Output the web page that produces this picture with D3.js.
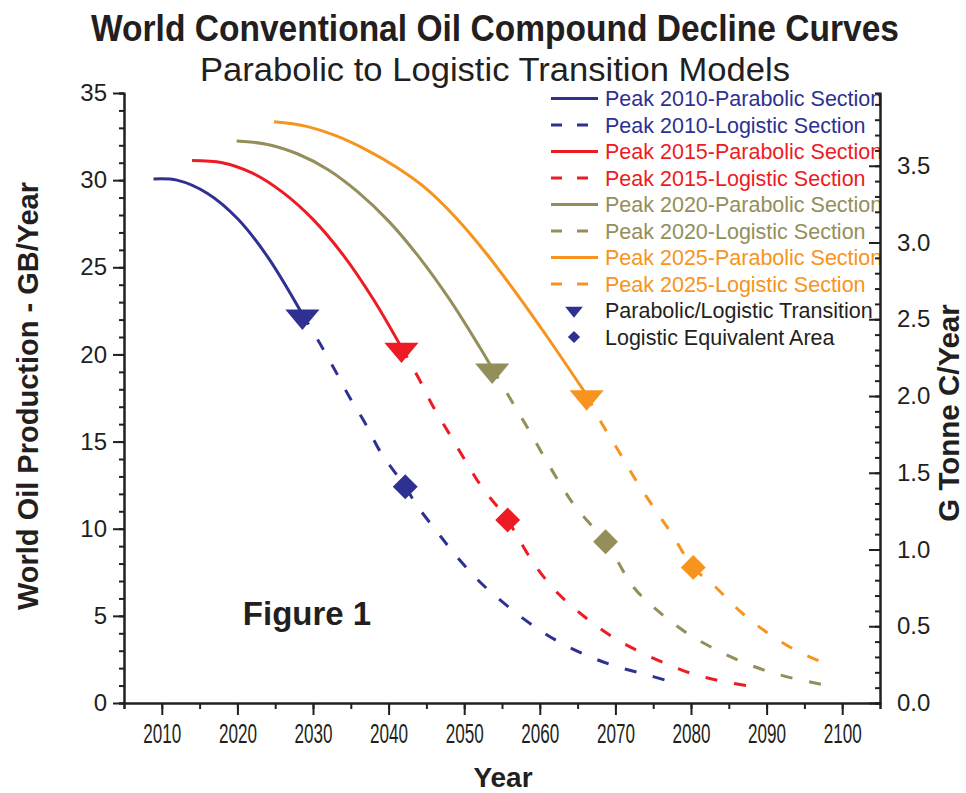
<html>
  <script src="https://d3js.org/d3.v7.min.js"></script>
  <style>
    body,
    html {
      margin: 0;
      padding: 0;
      background: white;
    }
    text {
      font-family: "Liberation Sans", Arial, sans-serif;
      fill: #231f20;
    }
  </style>
  <body>
    <svg id="chart" width="966" height="793"></svg>
    <script>
      // values: [year, GB/year]
      const parabolic2010 = [[2008.9, 30.07], [2012, 30.0], [2016, 29.25], [2020, 27.8], [2024, 25.6], [2028.6, 22.3]];
      const logistic2010 = [[2028.6, 22.3], [2030.9, 20.64], [2032.9, 19.1], [2034.8, 17.57], [2036.9, 16.05], [2038.9, 14.42], [2042.2, 12.41], [2043.7, 11.36], [2046.4, 9.83], [2049.2, 8.3], [2052.5, 6.77], [2056.1, 5.43], [2059.6, 4.29], [2063.1, 3.37], [2066.6, 2.66], [2070.2, 2.08], [2073.9, 1.65], [2077.4, 1.22], [2078.2, 1.15]];
      const parabolic2015 = [[2014, 31.13], [2018, 31.0], [2022, 30.4], [2026, 29.3], [2030, 27.75], [2034, 25.7], [2038, 23.15], [2041.7, 20.4]];
      const logistic2015 = [[2041.7, 20.4], [2044.1, 18.53], [2045.9, 17.0], [2048.0, 15.47], [2050.1, 13.94], [2052.3, 12.41], [2055.75, 10.5], [2057.3, 9.35], [2059.5, 7.82], [2062.5, 6.25], [2066.0, 4.92], [2069.6, 3.8], [2073.2, 2.94], [2076.8, 2.24], [2080.3, 1.66], [2083.8, 1.28], [2087.4, 0.99], [2088.2, 0.93]];
      const parabolic2020 = [[2019.9, 32.25], [2024, 32.05], [2028, 31.5], [2032, 30.6], [2036, 29.3], [2040, 27.65], [2044, 25.6], [2048, 23.2], [2052, 20.45], [2053.7, 19.2]];
      const logistic2020 = [[2053.7, 19.2], [2056.2, 17.38], [2058.3, 15.85], [2060.3, 14.33], [2062.4, 12.79], [2064.7, 11.26], [2068.7, 9.25], [2070.2, 8.2], [2072.4, 6.64], [2075.9, 5.18], [2079.4, 4.03], [2082.95, 3.14], [2086.5, 2.41], [2090.0, 1.84], [2093.5, 1.42], [2098.1, 1.0]];
      const parabolic2025 = [[2024.85, 33.35], [2029, 33.1], [2033, 32.55], [2037, 31.75], [2041, 30.75], [2045, 29.5], [2049, 27.8], [2053, 25.75], [2057, 23.45], [2061, 21.0], [2066.2, 17.67]];
      const logistic2025 = [[2066.2, 17.67], [2068.4, 15.89], [2070.6, 14.33], [2072.7, 12.79], [2075.0, 11.26], [2077.4, 9.74], [2080.3, 7.78], [2083.2, 6.67], [2086.7, 5.18], [2090.2, 4.0], [2093.8, 3.04], [2098.1, 2.2]];

      const transitionPoints = [[2028.6, 22.3], [2041.7, 20.4], [2053.7, 19.2], [2066.2, 17.67]];
      const equivalentPoints = [[2042.2, 12.41], [2055.75, 10.5], [2068.7, 9.25], [2080.3, 7.78]];

      const peakNames = ["Peak 2010", "Peak 2015", "Peak 2020", "Peak 2025"];
      const peakColors = ["#2e3192", "#ed1c24", "#948e5a", "#f7941d"];

      const yearTicks = [2010, 2020, 2030, 2040, 2050, 2060, 2070, 2080, 2090, 2100];
      const gbTicks = [0, 5, 10, 15, 20, 25, 30, 35];
      const carbonTicks = [0, 0.5, 1.0, 1.5, 2.0, 2.5, 3.0, 3.5];
      const carbonMax = 3.974; // right axis value at 35 GB/year

      const parabolic = [parabolic2010, parabolic2015, parabolic2020, parabolic2025];
      const logistic = [logistic2010, logistic2015, logistic2020, logistic2025];

      const svg = d3.select("#chart");
      const plotLeft = 124, plotRight = 880, plotTop = 93, plotBottom = 703;
      const ink = "#231f20";

      const x = d3.scaleLinear().domain([2005, 2105]).range([plotLeft, plotRight]);
      const y = d3.scaleLinear().domain([0, 35]).range([plotBottom, plotTop]);
      const y2 = d3.scaleLinear().domain([0, carbonMax]).range([plotBottom, plotTop]);

      // titles
      svg.append("text")
        .attr("x", 495).attr("y", 41)
        .attr("text-anchor", "middle")
        .attr("font-size", 36).attr("font-weight", "bold")
        .attr("textLength", 808).attr("lengthAdjust", "spacingAndGlyphs")
        .text("World Conventional Oil Compound Decline Curves");
      svg.append("text")
        .attr("x", 495).attr("y", 81)
        .attr("text-anchor", "middle")
        .attr("font-size", 34)
        .attr("textLength", 590).attr("lengthAdjust", "spacingAndGlyphs")
        .text("Parabolic to Logistic Transition Models");

      // curves
      const line = d3.line()
        .x((d) => x(d[0]))
        .y((d) => y(d[1]))
        .curve(d3.curveCatmullRom);

      const curves = svg.append("g").attr("fill", "none").attr("stroke-width", 3);
      parabolic.forEach((s, i) => {
        curves.append("path").attr("d", line(s)).attr("stroke", peakColors[i]);
      });
      logistic.forEach((s, i) => {
        curves.append("path").attr("d", line(s)).attr("stroke", peakColors[i])
          .attr("stroke-dasharray", "12,17");
      });

      // legend
      const legend = svg.append("g");
      const rowH = 26.5, row0 = 98.5;
      peakNames.forEach((name, i) => {
        ["Parabolic", "Logistic"].forEach((kind, j) => {
          const ry = row0 + (i * 2 + j) * rowH;
          legend.append("line")
            .attr("x1", 551).attr("x2", 598).attr("y1", ry).attr("y2", ry)
            .attr("stroke", peakColors[i]).attr("stroke-width", 3)
            .attr("stroke-dasharray", j ? "11,15" : null);
          legend.append("text")
            .attr("x", 605).attr("y", ry).attr("dy", "0.36em")
            .attr("font-size", 21.5)
            .style("fill", peakColors[i])
            .text(`${name}-${kind} Section`);
        });
      });

      // markers
      const tri = d3.symbol().type(d3.symbolTriangle);
      const dia = d3.symbol().type(d3.symbolSquare);
      svg.append("g").selectAll("path")
        .data(transitionPoints)
        .join("path")
        .attr("d", tri.size(240))
        .attr("transform", (d) => `translate(${x(d[0])},${y(d[1]) + 2}) rotate(180) scale(1.45,1)`)
        .attr("fill", (d, i) => peakColors[i]);
      svg.append("g").selectAll("path")
        .data(equivalentPoints)
        .join("path")
        .attr("d", dia.size(310))
        .attr("transform", (d) => `translate(${x(d[0])},${y(d[1])}) rotate(45)`)
        .attr("fill", (d, i) => peakColors[i]);

      const legendMarks = [
        ["Parabolic/Logistic Transition", tri.size(70)(), "rotate(180) scale(1.4,1)"],
        ["Logistic Equivalent Area", dia.size(75)(), "rotate(45)"],
      ];
      legendMarks.forEach((m, k) => {
        const ry = row0 + (8 + k) * rowH;
        legend.append("path").attr("d", m[1])
          .attr("transform", `translate(574,${ry}) ${m[2]}`)
          .attr("fill", peakColors[0]);
        legend.append("text")
          .attr("x", 605).attr("y", ry).attr("dy", "0.36em")
          .attr("font-size", 21.5)
          .text(m[0]);
      });

      // axes
      const styleAxis = (g) => {
        g.select(".domain").attr("stroke", ink).attr("stroke-width", 2);
        g.selectAll(".tick line").attr("stroke", ink).attr("stroke-width", 2);
        g.selectAll("text").attr("font-size", 24).attr("font-family", null).style("fill", ink);
      };

      svg.append("g")
        .attr("transform", `translate(${plotLeft},0)`)
        .call(d3.axisLeft(y).tickValues(d3.range(0, 36, 1)).tickSize(5).tickFormat(""))
        .call(styleAxis);
      svg.append("g")
        .attr("transform", `translate(${plotLeft},0)`)
        .call(d3.axisLeft(y).tickValues(gbTicks).tickSize(11).tickPadding(6).tickSizeOuter(0))
        .call(styleAxis);

      svg.append("g")
        .attr("transform", `translate(0,${plotBottom})`)
        .call(d3.axisBottom(x).tickValues(d3.range(2005, 2106, 5)).tickSize(6).tickFormat(""))
        .call(styleAxis);
      svg.append("g")
        .attr("transform", `translate(0,${plotBottom})`)
        .call(d3.axisBottom(x).tickValues(yearTicks).tickSize(12).tickPadding(8).tickSizeOuter(0).tickFormat(d3.format("d")))
        .call(styleAxis)
        .selectAll("text")
        .attr("font-size", 28)
        .attr("textLength", 38).attr("lengthAdjust", "spacingAndGlyphs");

      svg.append("g")
        .attr("transform", `translate(${plotRight},0)`)
        .call(d3.axisRight(y2).tickValues(d3.range(0, 40).map((v) => v / 10)).tickSize(-5).tickFormat(""))
        .call(styleAxis);
      svg.append("g")
        .attr("transform", `translate(${plotRight},0)`)
        .call(d3.axisRight(y2).tickValues(carbonTicks).tickSizeInner(-11).tickSizeOuter(0).tickPadding(17).tickFormat(d3.format(".1f")))
        .call(styleAxis);

      // axis titles
      svg.append("text")
        .attr("transform", "translate(38,396) rotate(-90)")
        .attr("text-anchor", "middle")
        .attr("font-size", 29).attr("font-weight", "bold")
        .text("World Oil Production - GB/Year");
      svg.append("text")
        .attr("transform", "translate(959,413) rotate(-90)")
        .attr("text-anchor", "middle")
        .attr("font-size", 29.5).attr("font-weight", "bold")
        .text("G Tonne C/Year");
      svg.append("text")
        .attr("x", 503).attr("y", 787)
        .attr("text-anchor", "middle")
        .attr("font-size", 28).attr("font-weight", "bold")
        .text("Year");

      svg.append("text")
        .attr("x", 307).attr("y", 625)
        .attr("text-anchor", "middle")
        .attr("font-size", 33).attr("font-weight", "bold")
        .text("Figure 1");
    </script>
  </body>
</html>
